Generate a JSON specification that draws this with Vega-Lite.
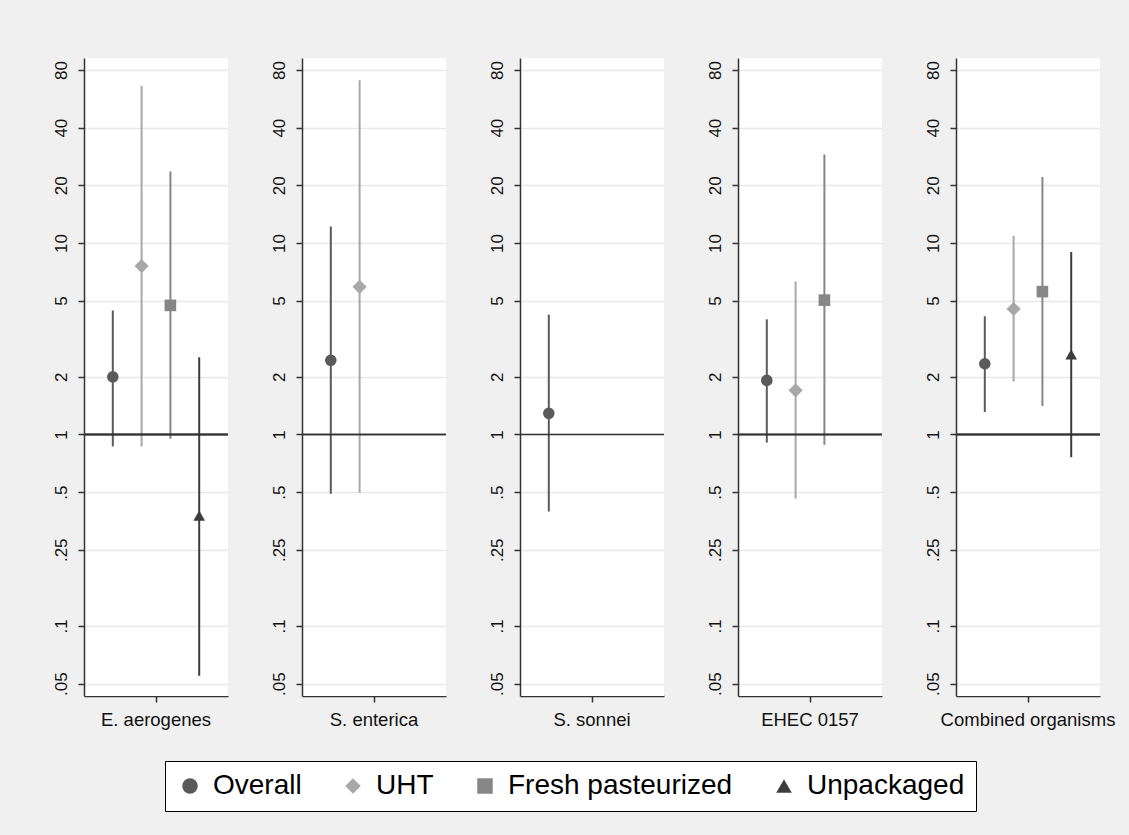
{
  "$schema": "https://vega.github.io/schema/vega-lite/v6.json",
  "background": "#f0f0f0",
  "padding": {"left": 51, "top": 58, "right": 17, "bottom": 106},
  "autosize": {"type": "pad"},
  "data": {
    "values": [
      {"organism": "E. aerogenes", "group": "Overall", "or": 2.0, "lo": 0.866, "hi": 4.44},
      {"organism": "E. aerogenes", "group": "UHT", "or": 7.57, "lo": 0.866, "hi": 66},
      {"organism": "E. aerogenes", "group": "Fresh pasteurized", "or": 4.72, "lo": 0.95, "hi": 23.6},
      {"organism": "E. aerogenes", "group": "Unpackaged", "or": 0.377, "lo": 0.055, "hi": 2.53},
      {"organism": "S. enterica", "group": "Overall", "or": 2.44, "lo": 0.49, "hi": 12.2},
      {"organism": "S. enterica", "group": "UHT", "or": 5.9, "lo": 0.496, "hi": 70.7},
      {"organism": "S. sonnei", "group": "Overall", "or": 1.29, "lo": 0.396, "hi": 4.22},
      {"organism": "EHEC 0157", "group": "Overall", "or": 1.915, "lo": 0.908, "hi": 3.99},
      {"organism": "EHEC 0157", "group": "UHT", "or": 1.70, "lo": 0.463, "hi": 6.3},
      {"organism": "EHEC 0157", "group": "Fresh pasteurized", "or": 5.03, "lo": 0.884, "hi": 29.0},
      {"organism": "Combined organisms", "group": "Overall", "or": 2.34, "lo": 1.31, "hi": 4.14},
      {"organism": "Combined organisms", "group": "UHT", "or": 4.52, "lo": 1.89, "hi": 10.9},
      {"organism": "Combined organisms", "group": "Fresh pasteurized", "or": 5.57, "lo": 1.41, "hi": 22.1},
      {"organism": "Combined organisms", "group": "Unpackaged", "or": 2.62, "lo": 0.761, "hi": 8.96}
    ]
  },
  "facet": {
    "column": {
      "field": "organism",
      "type": "nominal",
      "sort": ["E. aerogenes", "S. enterica", "S. sonnei", "EHEC 0157", "Combined organisms"],
      "title": null,
      "header": {
        "labelOrient": "bottom",
        "labelFontSize": 18.5,
        "labelFont": "Liberation Sans",
        "labelColor": "#111111",
        "labelPadding": 8
      }
    }
  },
  "spacing": 74,
  "bounds": "flush",
  "resolve": {"axis": {"y": "independent"}},
  "spec": {
    "width": 144,
    "height": 638,
    "layer": [
      {
        "mark": {"type": "rule", "strokeWidth": 2},
        "encoding": {
          "x": {
            "field": "group",
            "type": "nominal",
            "scale": {"type": "point", "padding": 1, "domain": ["Overall", "UHT", "Fresh pasteurized", "Unpackaged"]},
            "axis": {"title": null, "labels": false, "values": ["UHT"], "tickOffset": 14.4, "tickSize": 6, "grid": false, "domainColor": "#333333", "tickColor": "#333333", "domainWidth": 1.5, "tickWidth": 1.5}
          },
          "y": {
            "field": "lo",
            "type": "quantitative",
            "scale": {"type": "log", "domain": [0.0431, 92.4], "nice": false, "zero": false},
            "axis": {
              "title": null,
              "values": [0.05, 0.1, 0.25, 0.5, 1, 2, 5, 10, 20, 40, 80],
              "labelExpr": "datum.value < 1 ? replace(toString(datum.value), '0.', '.') : toString(datum.value)",
              "labelAngle": 270,
              "labelFontSize": 17,
              "labelFont": "Liberation Sans",
              "labelColor": "#111111",
              "labelPadding": 8,
              "tickSize": 6,
              "tickColor": "#333333",
              "tickWidth": 1.5,
              "domainColor": "#333333",
              "domainWidth": 1.5,
              "grid": true,
              "gridColor": "#e8e8e8",
              "gridWidth": 1.5
            }
          },
          "y2": {"field": "hi"},
          "color": {
            "field": "group",
            "type": "nominal",
            "scale": {"domain": ["Overall", "UHT", "Fresh pasteurized", "Unpackaged"], "range": ["#5a5a5a", "#a8a8a8", "#868686", "#3c3c3c"]}
          }
        }
      },
      {
        "mark": {"type": "rule", "color": "#333333", "strokeWidth": 1.6},
        "encoding": {"y": {"datum": 1}}
      },
      {
        "transform": [{"filter": "datum.group !== 'UHT'"}],
        "mark": {"type": "point", "filled": true, "opacity": 1, "size": 135},
        "encoding": {
          "x": {"field": "group", "type": "nominal"},
          "y": {"field": "or", "type": "quantitative"},
          "color": {
            "field": "group",
            "type": "nominal",
            "legend": {"orient": "none", "legendX": 81, "legendY": 703}
          },
          "shape": {
            "field": "group",
            "type": "nominal",
            "scale": {"domain": ["Overall", "UHT", "Fresh pasteurized", "Unpackaged"], "range": ["circle", "diamond", "square", "triangle-up"]},
            "legend": {"orient": "none", "legendX": 81, "legendY": 703}
          }
        }
      },
      {
        "transform": [{"filter": "datum.group === 'UHT'"}],
        "mark": {"type": "point", "filled": true, "opacity": 1, "size": 200},
        "encoding": {
          "x": {"field": "group", "type": "nominal"},
          "y": {"field": "or", "type": "quantitative"},
          "color": {"field": "group", "type": "nominal"},
          "shape": {"field": "group", "type": "nominal"}
        }
      }
    ]
  },
  "config": {
    "view": {"fill": "white", "stroke": null},
    "font": "Liberation Sans",
    "legend": {
      "title": null,
      "direction": "horizontal",
      "labelFontSize": 28,
      "labelFont": "Liberation Sans",
      "labelColor": "#000000",
      "labelLimit": 500,
      "symbolSize": 240,
      "symbolStrokeWidth": 0,
      "fillColor": "white",
      "strokeColor": "#000000",
      "padding": 11,
      "columnPadding": 37,
      "labelOffset": 9
    }
  }
}
